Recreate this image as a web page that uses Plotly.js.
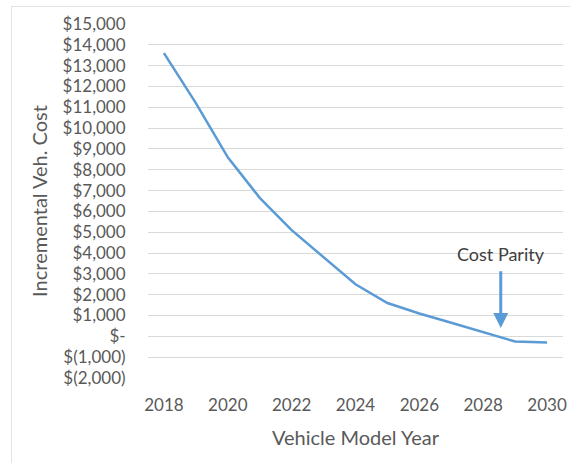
<!DOCTYPE html>
<html>
<head>
<meta charset="utf-8">
<script src="https://cdn.plot.ly/plotly-3.0.1.min.js"></script>
<style>
  html, body { margin: 0; padding: 0; background: #fff; }
  #frame { position: absolute; left: 11px; top: 6px; width: 600px; height: 500px; border: 1px solid #e3e3e3; pointer-events: none; }
  #chart { position: absolute; left: 0; top: 0; width: 570px; height: 463px; }
</style>
</head>
<body>
<div id="chart"></div>
<div id="frame"></div>
<script>
const years = [2018, 2019, 2020, 2021, 2022, 2023, 2024, 2025, 2026, 2027, 2028, 2029, 2030];
const incrementalCost = [13600, 11200, 8600, 6650, 5100, 3800, 2500, 1600, 1100, 650, 200, -250, -300];

const yTickVals = [15000, 14000, 13000, 12000, 11000, 10000, 9000, 8000, 7000, 6000, 5000, 4000, 3000, 2000, 1000, 0, -1000, -2000];
const yTickText = ["$15,000", "$14,000", "$13,000", "$12,000", "$11,000", "$10,000", "$9,000", "$8,000", "$7,000", "$6,000", "$5,000", "$4,000", "$3,000", "$2,000", "$1,000", "$-", "$(1,000)", "$(2,000)"];
const xTickVals = [2018, 2020, 2022, 2024, 2026, 2028, 2030];
const xTickText = ["2018", "2020", "2022", "2024", "2026", "2028", "2030"];

const parityLabel = "Cost Parity";
const parityYear = 2028.55;
const parityTip = 400;
const parityTail = 3200;

const font = "Lato, 'Open Sans', sans-serif";
const grey = "#595959";
const blue = "#5B9BD5";

const trace = {
  x: years,
  y: incrementalCost,
  type: "scatter",
  mode: "lines",
  line: { color: blue, width: 2.5 },
  hoverinfo: "skip"
};

const layout = {
  width: 570,
  height: 463,
  margin: { l: 148, r: 7, t: 24, b: 85 },
  paper_bgcolor: "#fff",
  plot_bgcolor: "#fff",
  showlegend: false,
  font: { family: font, color: grey, size: 17 },
  xaxis: {
    range: [2017.5, 2030.5],
    tickvals: xTickVals,
    ticktext: xTickText,
    showgrid: false,
    zeroline: false,
    showline: false,
    ticks: "outside",
    ticklen: 12,
    tickcolor: "rgba(0,0,0,0)",
    tickfont: { family: font, size: 17, color: grey },
    title: { text: "Vehicle Model Year", font: { family: font, size: 20, color: grey }, standoff: 16 }
  },
  yaxis: {
    range: [-2000, 15000],
    tickvals: yTickVals,
    ticktext: yTickText,
    showgrid: true,
    gridcolor: "#d9d9d9",
    gridwidth: 1,
    zeroline: false,
    showline: false,
    ticks: "outside",
    ticklen: 18,
    tickcolor: "rgba(0,0,0,0)",
    tickfont: { family: font, size: 17, color: grey },
    title: { text: "Incremental Veh. Cost", font: { family: font, size: 20, color: grey }, standoff: 9 }
  },
  annotations: [
    {
      x: parityYear, y: parityTip, xref: "x", yref: "y",
      ax: parityYear, ay: parityTail, axref: "x", ayref: "y",
      showarrow: true, arrowhead: 2, arrowsize: 1, arrowwidth: 3, arrowcolor: blue,
      text: ""
    },
    {
      x: parityYear, y: parityTail, xref: "x", yref: "y",
      text: parityLabel, showarrow: false, yanchor: "bottom", yshift: 3,
      font: { family: font, size: 18, color: "#404040" }
    }
  ]
};

Plotly.newPlot("chart", [trace], layout, { displayModeBar: false, staticPlot: true });
</script>
</body>
</html>
